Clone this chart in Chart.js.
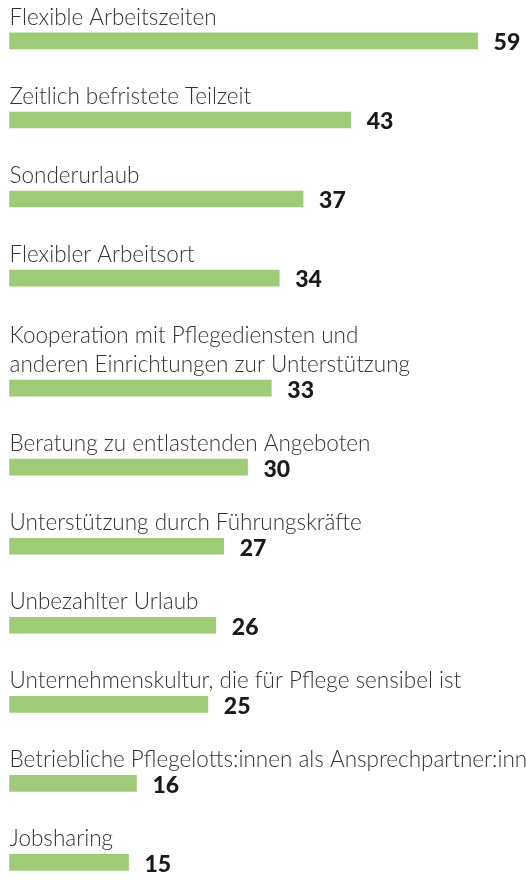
<!DOCTYPE html>
<html lang="de">
<head>
    <meta charset="UTF-8">
    <title>Maßnahmen zur Vereinbarkeit von Beruf und Pflege</title>
    <script src="https://cdn.jsdelivr.net/npm/chart.js"></script>
    <style>
        body { margin: 0; background: #fff; }
        #wrap { width: 526px; height: 881px; position: relative; }
    </style>
</head>
<body>
    <div id="wrap"><canvas id="chart"></canvas></div>
    <script>
        // labels, "\n" marks a line break
        const categories = [
            'Flexible Arbeitszeiten',
            'Zeitlich befristete Teilzeit',
            'Sonderurlaub',
            'Flexibler Arbeitsort',
            'Kooperation mit Pflegediensten und\nanderen Einrichtungen zur Unterstützung',
            'Beratung zu entlastenden Angeboten',
            'Unterstützung durch Führungskräfte',
            'Unbezahlter Urlaub',
            'Unternehmenskultur, die für Pflege sensibel ist',
            'Betriebliche Pflegelotts:innen als Ansprechpartner:innen',
            'Jobsharing'
        ];
        const values = [59, 43, 37, 34, 33, 30, 27, 26, 25, 16, 15];

        const barColor = '#9ecb78';
        const GAP = 1.55; // space between items, in text lines

        // row position: each item takes its label lines plus a gap
        const rowPos = [];
        let pos = 0;
        categories.forEach((c, i) => {
            if (i > 0) pos += c.split('\n').length + GAP;
            rowPos.push(pos);
        });

        const points = values.map((v, i) => ({ x: v, y: rowPos[i] }));

        const labelPlugin = {
            id: 'labels',
            afterDatasetsDraw(chart) {
                const ctx = chart.ctx;
                const meta = chart.getDatasetMeta(0);
                ctx.save();
                meta.data.forEach((bar, i) => {
                    const top = bar.y - 8;
                    const lines = categories[i].split('\n');
                    ctx.font = '300 22.5px Lato';
                    ctx.fillStyle = '#333';
                    ctx.textAlign = 'left';
                    ctx.textBaseline = 'alphabetic';
                    lines.forEach((ln, j) => {
                        const y = top - 8 - (lines.length - 1 - j) * 29;
                        ctx.fillText(ln, bar.base, y);
                    });
                    ctx.font = '900 23px Lato';
                    ctx.fillStyle = '#1a1a1a';
                    ctx.textBaseline = 'middle';
                    ctx.fillText(values[i], bar.x + 16, bar.y + 2);
                });
                ctx.restore();
            }
        };

        new Chart(document.getElementById('chart'), {
            type: 'bar',
            data: {
                datasets: [{
                    data: points,
                    backgroundColor: barColor,
                    barThickness: 16,
                    borderWidth: 0
                }]
            },
            options: {
                indexAxis: 'y',
                responsive: true,
                maintainAspectRatio: false,
                animation: false,
                layout: { padding: 0 },
                plugins: { legend: { display: false }, tooltip: { enabled: false } },
                scales: {
                    x: { type: 'linear', display: false, min: -1.2, max: 65.1 },
                    y: { type: 'linear', display: false, reverse: true, offset: false, min: -1.32, max: 27.1 }
                }
            },
            plugins: [labelPlugin]
        });
    </script>
</body>
</html>
